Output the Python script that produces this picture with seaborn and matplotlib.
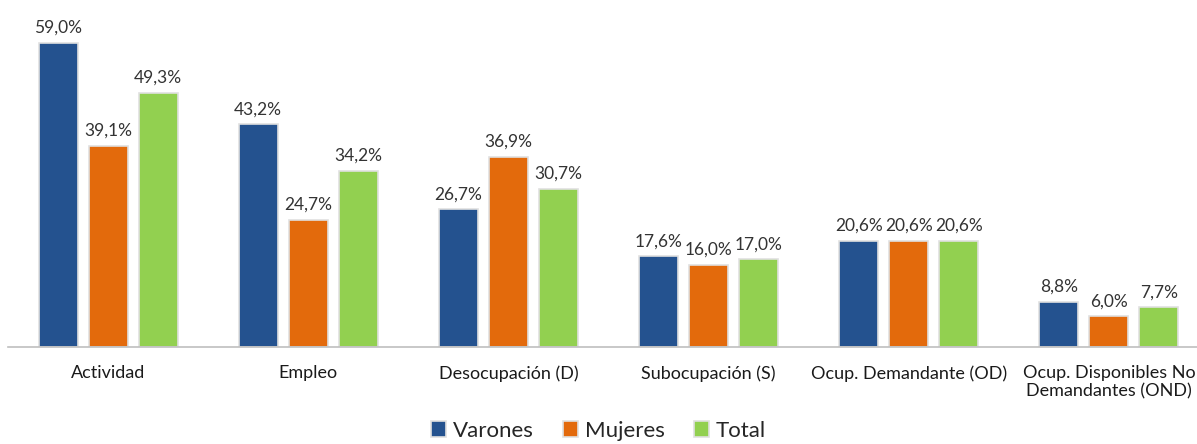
import matplotlib
matplotlib.use("Agg")
import matplotlib.pyplot as plt
import seaborn as sns
import pandas as pd

categories = ["Actividad", "Empleo", "Desocupación (D)", "Subocupación (S)",
              "Ocup. Demandante (OD)", "Ocup. Disponibles No\nDemandantes (OND)"]
varones = [59.0, 43.2, 26.7, 17.6, 20.6, 8.8]
mujeres = [39.1, 24.7, 36.9, 16.0, 20.6, 6.0]
total = [49.3, 34.2, 30.7, 17.0, 20.6, 7.7]
series = ["Varones", "Mujeres", "Total"]
colors = ["#24528F", "#E36A0C", "#92D050"]

df = pd.DataFrame({
    "cat": categories * 3,
    "serie": sum([[s] * len(categories) for s in series], []),
    "val": varones + mujeres + total,
})

sns.set_theme(style="white")
plt.rcParams["font.family"] = ["Lato", "DejaVu Sans"]

W, H = 1197, 444
fig = plt.figure(figsize=(W / 100, H / 100), dpi=100)
ax = fig.add_axes([8 / W, 97 / H, (W - 8) / W, 340 / H])

sns.barplot(data=df, x="cat", y="val", hue="serie", order=categories,
            hue_order=series, palette=colors, saturation=1, width=0.75, gap=0.22,
            edgecolor="#e0e0e0", linewidth=1.2, ax=ax, legend=True)

ax.set_xlim(-0.5, 5.44)
ax.set_ylim(0, 66)
ax.set_xlabel("")
ax.set_ylabel("")
ax.set_yticks([])
for s in ["top", "right", "left"]:
    ax.spines[s].set_visible(False)
ax.spines["bottom"].set_color("#bfbfbf")
ax.spines["bottom"].set_linewidth(1.2)
ax.tick_params(axis="x", length=0, pad=13, labelsize=13, labelcolor="#1a1a1a")

for cont in ax.containers:
    ax.bar_label(cont, labels=[f"{v:.1f}%".replace(".", ",") for v in cont.datavalues],
                 padding=5, fontsize=12.5, color="#333333")

handles, labels = ax.get_legend_handles_labels()
ax.get_legend().remove()
fig.legend(handles, labels, loc="lower center", bbox_to_anchor=(0.5, 0.0), ncol=3,
           frameon=False, fontsize=16, handlelength=0.7, handleheight=0.7,
           handletextpad=0.3, columnspacing=1.3, borderaxespad=0.05, borderpad=0.1)

fig.savefig("out.png", dpi=100)
